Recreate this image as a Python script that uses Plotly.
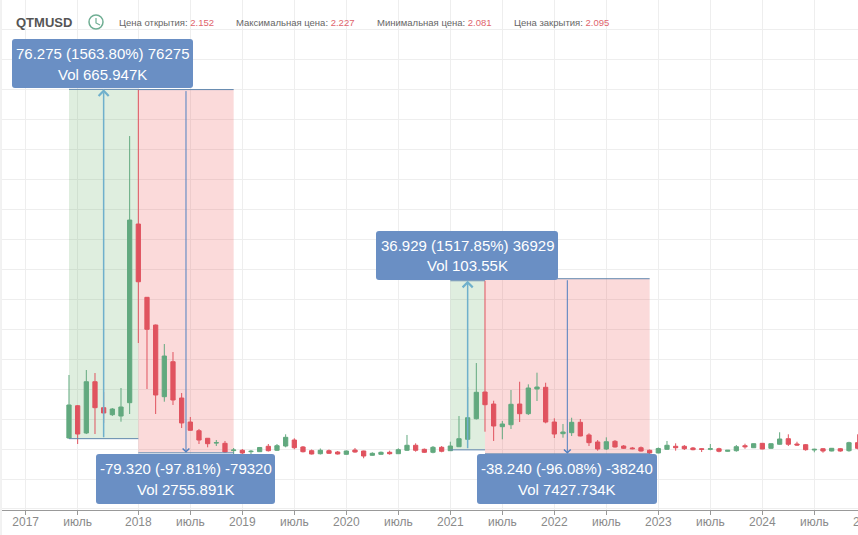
import plotly.graph_objects as go

WIDTH = 858
HEIGHT = 535
AXIS_Y = 510  # pixel row of the time axis line

# months counted from January 2018, one candle per month
month = list(range(-8, 84))

open_price = [
    5.02, 12.07, 6.11, 17.31, 11.64, 10.11, 9.82, 12.73, 51.74, 35.74, 29.69, 14.04,
    21.68, 13.75, 8.51, 6.61, 4.96, 3.93, 3.86, 2.27, 2.34, 2.03, 2.03, 3.21,
    2.34, 3.27, 4.58, 3.06, 2.25, 1.59, 2.25, 1.96, 1.46, 2.40, 2.18, 1.24,
    1.46, 1.90, 1.59, 2.34, 3.43, 2.55, 1.90, 2.99, 2.25, 3.12, 4.74, 9.23,
    15.06, 12.44, 7.49, 7.92, 12.44, 10.33, 15.72, 16.09, 8.51, 5.96, 6.18, 8.45,
    5.68, 4.15, 2.62, 4.30, 3.27, 2.84, 2.90, 2.34, 1.75, 2.55, 3.21, 3.21,
    2.84, 2.68, 2.55, 2.68, 2.12, 2.25, 3.34, 2.90, 3.86, 2.77, 3.65, 4.87,
    3.71, 3.56, 2.40, 2.68, 2.18, 2.68, 2.25, 4.00,
]
high_price = [
    18.78, 12.23, 19.87, 19.21, 15.06, 11.57, 15.94, 70.95, 81.15, 35.80, 29.80, 25.54,
    23.79, 14.84, 9.61, 6.99, 5.02, 4.58, 4.37, 2.84, 2.62, 2.40, 3.06, 3.71,
    3.71, 5.83, 4.96, 3.27, 2.51, 2.73, 2.51, 2.18, 2.29, 2.84, 2.25, 1.90,
    2.07, 2.25, 2.77, 5.68, 3.86, 2.73, 3.27, 3.27, 4.21, 9.82, 16.15, 21.39,
    39.36, 13.16, 8.73, 15.50, 17.31, 16.74, 19.28, 17.09, 9.32, 8.08, 9.45, 9.17,
    6.05, 4.58, 5.17, 4.58, 3.49, 3.06, 3.17, 2.51, 2.95, 4.37, 3.86, 3.49,
    3.06, 2.77, 3.71, 2.90, 2.40, 3.49, 3.78, 3.82, 3.93, 3.82, 6.27, 5.83,
    4.21, 3.71, 2.68, 2.84, 2.84, 2.84, 4.21, 5.83,
]
low_price = [
    4.88, 3.71, 5.89, 5.89, 8.30, 9.82, 8.58, 10.26, 25.76, 15.72, 10.26, 12.95,
    12.23, 7.20, 6.61, 3.71, 2.99, 3.27, 1.78, 1.53, 1.53, 1.53, 1.96, 2.07,
    2.18, 2.99, 2.55, 1.86, 1.42, 1.42, 1.53, 1.42, 1.38, 1.81, 0.59, 1.16,
    1.38, 1.38, 1.53, 2.18, 2.03, 1.75, 1.68, 1.90, 2.18, 3.06, 4.58, 9.06,
    6.40, 4.37, 4.74, 6.99, 8.51, 10.04, 13.10, 8.23, 5.02, 5.09, 5.46, 5.39,
    3.27, 2.25, 2.40, 2.95, 2.62, 2.55, 2.07, 1.46, 1.68, 2.47, 2.25, 2.40,
    2.34, 1.96, 2.34, 1.90, 2.03, 2.03, 2.68, 2.84, 2.55, 2.68, 3.56, 3.27,
    3.34, 2.25, 1.90, 1.81, 2.12, 2.03, 2.03, 2.55,
]
close_price = [
    12.23, 5.89, 17.31, 11.64, 10.48, 11.35, 11.79, 52.61, 39.14, 28.75, 14.41, 22.92,
    13.32, 8.30, 6.70, 4.58, 3.78, 4.00, 1.97, 2.40, 1.75, 2.12, 2.95, 2.25,
    3.34, 5.17, 2.90, 2.03, 1.53, 2.34, 1.68, 1.53, 2.18, 1.96, 1.09, 1.68,
    1.90, 1.59, 2.47, 3.43, 2.34, 1.90, 2.99, 2.12, 3.27, 4.87, 9.45, 15.00,
    12.29, 7.64, 8.08, 12.38, 10.33, 15.94, 16.15, 8.51, 5.89, 6.33, 8.45, 5.46,
    4.00, 2.62, 4.21, 3.06, 2.77, 2.68, 2.18, 1.75, 2.73, 3.43, 2.90, 2.68,
    2.47, 2.55, 2.68, 2.12, 2.34, 3.12, 3.12, 3.78, 2.62, 3.78, 4.80, 3.65,
    3.49, 2.47, 2.55, 2.18, 2.77, 2.18, 4.00, 2.77,
]

tick_month = [-13, -7, 0, 6, 12, 18, 24, 30, 36, 42, 48, 54, 60, 66, 72, 78]
tick_text = ["2017", "июль", "2018", "июль", "2019", "июль", "2020", "июль",
             "2021", "июль", "2022", "июль", "2023", "июль", "2024", "июль"]

# measured moves: start month, end month, from price, to price
rise_ranges = [(-8, 0, 4.877, 81.152), (36, 40, 2.433, 39.362)]
fall_ranges = [(0, 11, 81.100, 1.780), (40, 59, 39.800, 1.560)]

rise_text = [("76.275 (1563.80%) 76275", "Vol 665.947K"), ("36.929 (1517.85%) 36929", "Vol 103.55K")]
fall_text = [("-79.320 (-97.81%) -79320", "Vol 2755.891K"), ("-38.240 (-96.08%) -38240", "Vol 7427.734K")]

header_items = [("Цена открытия:", "2.152"), ("Максимальная цена:", "2.227"),
                ("Минимальная цена:", "2.081"), ("Цена закрытия:", "2.095")]
header_x = [117, 234, 375, 512]

# label boxes in pixels: left, top, right, bottom
rise_boxes = [(12, 39, 193, 88), (376, 231, 558, 280)]
fall_boxes = [(96, 454, 275, 504), (477, 454, 657, 504)]

UP = "#62a97f"
DOWN = "#e0535f"
BOX = "#6a8fc4"
TICK_GREY = "#8a8a8a"
GRID = "#eeeeee"


def px(x):
    return x / WIDTH


def py(y):
    return (AXIS_Y - y) / AXIS_Y


def rounded_box(left, top, right, bottom, r=3):
    x0, x1, y0, y1 = px(left), px(right), py(bottom), py(top)
    rx, ry = r / WIDTH, r / AXIS_Y
    return (
        f"M{x0 + rx},{y1} L{x1 - rx},{y1} Q{x1},{y1} {x1},{y1 - ry} "
        f"L{x1},{y0 + ry} Q{x1},{y0} {x1 - rx},{y0} "
        f"L{x0 + rx},{y0} Q{x0},{y0} {x0},{y0 + ry} "
        f"L{x0},{y1 - ry} Q{x0},{y1} {x0 + rx},{y1} Z"
    )


fig = go.Figure(
    go.Candlestick(
        x=month,
        open=open_price,
        high=high_price,
        low=low_price,
        close=close_price,
        increasing=dict(line=dict(color=UP, width=1), fillcolor=UP),
        decreasing=dict(line=dict(color=DOWN, width=1), fillcolor=DOWN),
        whiskerwidth=0,
        hoverinfo="skip",
    )
)

shapes = []
annotations = []


def add_range(rng, fill, arrow_color, arrow_width):
    start, end, p0, p1 = rng
    # between: the grid stays under the tint, as in the reference
    shapes.append(dict(type="rect", xref="x", yref="y", x0=start, x1=end, y0=p0, y1=p1,
                       fillcolor=fill, line=dict(width=0), layer="between"))
    for level in (p0, p1):
        shapes.append(dict(type="line", xref="x", yref="y", x0=start, x1=end, y0=level, y1=level,
                           line=dict(color="#5f86ad", width=1), layer="above"))
    annotations.append(dict(xref="x", yref="y", axref="x", ayref="y",
                            x=(start + end) / 2, y=p1, ax=(start + end) / 2, ay=p0,
                            text="", showarrow=True, arrowhead=4, arrowsize=1.3,
                            arrowwidth=arrow_width, arrowcolor=arrow_color))


def add_label(box, lines):
    left, top, right, bottom = box
    shapes.append(dict(type="path", xref="paper", yref="paper", path=rounded_box(*box),
                       fillcolor=BOX, line=dict(width=0), layer="above"))
    for line, row in zip(lines, (top + 14.5, top + 35)):
        annotations.append(dict(xref="paper", yref="paper", x=px((left + right) / 2), y=py(row),
                                text=line, showarrow=False, xanchor="center", yanchor="middle",
                                font=dict(family="Liberation Sans", size=15, color="white")))


for rng in rise_ranges:
    add_range(rng, "rgba(76,160,80,0.18)", "#6fb0cc", 1.5)
for rng in fall_ranges:
    add_range(rng, "rgba(235,70,70,0.2)", "#4f7fc0", 1)
for box, lines in zip(rise_boxes + fall_boxes, rise_text + fall_text):
    add_label(box, lines)

# header row
annotations.append(dict(xref="paper", yref="paper", x=px(14), y=py(23), text="<b>QTMUSD</b>",
                        showarrow=False, xanchor="left", yanchor="middle",
                        font=dict(family="Liberation Sans", size=13, color="#555555")))
for (name, value), x in zip(header_items, header_x):
    annotations.append(dict(xref="paper", yref="paper", x=px(x), y=py(23),
                            text=f"{name} <span style='color:#e0646c'>{value}</span>",
                            showarrow=False, xanchor="left", yanchor="middle",
                            font=dict(family="Liberation Sans", size=9.5, color="#666666")))

# clock icon next to the ticker
shapes.append(dict(type="circle", xref="paper", yref="paper", x0=px(89), x1=px(103), y0=py(29), y1=py(15),
                   line=dict(color="#6fae93", width=1.5)))
shapes.append(dict(type="path", xref="paper", yref="paper",
                   path=f"M{px(96)},{py(18)} L{px(96)},{py(23)} L{px(100)},{py(25)}",
                   line=dict(color="#6fae93", width=1.2)))

# thin page border on the left
shapes.append(dict(type="rect", xref="paper", yref="paper", x0=0, x1=px(2), y0=-0.05, y1=1,
                   fillcolor="white", line=dict(width=0), layer="above"))
shapes.append(dict(type="line", xref="paper", yref="paper", x0=px(1), x1=px(1), y0=-0.05, y1=1,
                   line=dict(color="#e4e4e4", width=1), layer="above"))

# the 2025 label hangs over the right edge, so its tick is out of range
annotations.append(dict(xref="paper", yref="paper", x=px(866.3), y=py(521.5), text="2025", showarrow=False,
                        xanchor="center", yanchor="middle",
                        font=dict(family="Liberation Sans", size=12, color=TICK_GREY)))

fig.update_layout(
    width=WIDTH,
    height=HEIGHT,
    margin=dict(l=0, r=0, t=0, b=HEIGHT - AXIS_Y, pad=0),
    paper_bgcolor="white",
    plot_bgcolor="white",
    showlegend=False,
    boxgap=0.3,
    shapes=shapes,
    annotations=annotations,
    xaxis=dict(
        range=[-15.96, 83.04],
        rangeslider=dict(visible=False),
        tickmode="array",
        tickvals=tick_month,
        ticktext=tick_text,
        tickangle=0,
        ticks="outside",
        ticklen=4,
        tickcolor="#999999",
        ticklabelstandoff=-3,
        gridcolor=GRID,
        gridwidth=1,
        showline=True,
        linecolor="#999999",
        linewidth=1,
        zeroline=False,
        tickfont=dict(family="Liberation Sans", size=12, color=TICK_GREY),
    ),
    yaxis=dict(
        range=[-10.70, 100.66],
        tickmode="linear",
        tick0=2.62,
        dtick=6.55,
        showticklabels=False,
        gridcolor=GRID,
        gridwidth=1,
        zeroline=False,
    ),
)

fig.write_html("out.html", config=dict(displayModeBar=False), post_script="document.body.style.margin='0';")
